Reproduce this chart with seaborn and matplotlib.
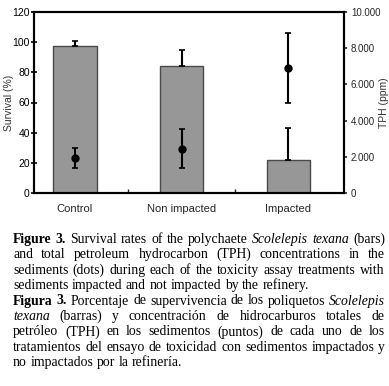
import numpy as np
import pandas as pd
import seaborn as sns
import matplotlib.pyplot as plt
from matplotlib.ticker import FuncFormatter, FixedLocator
from matplotlib.transforms import IdentityTransform

# data
treatments = ['Control', 'Non impacted', 'Impacted']
survival = [97.5, 84.2, 22.0]
survival_err = [3.0, 10.6, 21.0]
tph = [1930, 2450, 6900]
tph_err = [570, 1090, 1930]

caption_lines = [
    [('Figure', 'b'), ('3.', 'b'), ('Survival', ''), ('rates', ''), ('of', ''), ('the', ''),
     ('polychaete', ''), ('Scolelepis', 'i'), ('texana', 'i'), ('(bars)', '')],
    [('and', ''), ('total', ''), ('petroleum', ''), ('hydrocarbon', ''), ('(TPH)', ''),
     ('concentrations', ''), ('in', ''), ('the', '')],
    [('sediments', ''), ('(dots)', ''), ('during', ''), ('each', ''), ('of', ''), ('the', ''),
     ('toxicity', ''), ('assay', ''), ('treatments', ''), ('with', '')],
    [('sediments', ''), ('impacted', ''), ('and', ''), ('not', ''), ('impacted', ''), ('by', ''),
     ('the', ''), ('refinery.', '')],
    [('Figura', 'b'), ('3.', 'b'), ('Porcentaje', ''), ('de', ''), ('supervivencia', ''), ('de', ''),
     ('los', ''), ('poliquetos', ''), ('Scolelepis', 'i')],
    [('texana', 'i'), ('(barras)', ''), ('y', ''), ('concentración', ''), ('de', ''),
     ('hidrocarburos', ''), ('totales', ''), ('de', '')],
    [('petróleo', ''), ('(TPH)', ''), ('en', ''), ('los', ''), ('sedimentos', ''), ('(puntos)', ''),
     ('de', ''), ('cada', ''), ('uno', ''), ('de', ''), ('los', '')],
    [('tratamientos', ''), ('del', ''), ('ensayo', ''), ('de', ''), ('toxicidad', ''), ('con', ''),
     ('sedimentos', ''), ('impactados', ''), ('y', '')],
    [('no', ''), ('impactados', ''), ('por', ''), ('la', ''), ('refinería.', '')],
]
last_of_paragraph = [3, 8]

sns.set_theme(style='white')
plt.rcParams['font.family'] = ['Liberation Sans', 'DejaVu Sans']

df = pd.DataFrame({'Treatment': treatments, 'Survival': survival})

W, H = 389, 386
fig = plt.figure(figsize=(W / 100, H / 100), dpi=100)
ax = fig.add_axes([34 / W, 1 - 193 / H, (344 - 34) / W, (193 - 12) / H])

sns.barplot(data=df, x='Treatment', y='Survival', ax=ax, color='#979797',
            edgecolor='#4a4a4a', linewidth=1.0, width=0.41, saturation=1)
pos = np.arange(len(treatments))
ax.errorbar(pos, survival, yerr=[np.zeros(3), survival_err], fmt='none',
            ecolor='black', elinewidth=1.5, capsize=2, capthick=1.2, zorder=3)

ax.set_xlim(-0.38, 2.52)
ax.set_ylim(0, 120)
ax.set_yticks(range(0, 121, 20))
ax.set_xlabel('')
ax.set_ylabel('Survival (%)', fontsize=7.5, color='#333333')
ax.yaxis.set_label_coords(-0.066, 0.5)
ax.tick_params(axis='y', direction='inout', length=4, width=1.2, labelsize=7.5, pad=1, colors='black')
ax.tick_params(axis='x', length=0, labelsize=8, pad=8)
ax.xaxis.set_minor_locator(FixedLocator([0.5, 1.5]))
ax.tick_params(axis='x', which='minor', direction='in', length=3, width=1, bottom=True)

ax2 = ax.twinx()
ax2.errorbar(pos, tph, yerr=tph_err, fmt='o', color='black', markersize=5,
             ecolor='black', elinewidth=1.5, capsize=2, capthick=1.2, zorder=4)
ax2.set_ylim(0, 10000)
ax2.set_yticks(range(0, 10001, 2000))
ax2.yaxis.set_major_formatter(FuncFormatter(lambda v, p: f'{int(v):,}'.replace(',', '.')))
ax2.set_ylabel('TPH (ppm)', fontsize=7.5, color='#333333')
ax2.yaxis.set_label_coords(1.113, 0.5)
ax2.tick_params(axis='y', direction='out', length=2, width=1.2, labelsize=7, pad=3)

for a in (ax, ax2):
    for s in a.spines.values():
        s.set_color('black')
        s.set_linewidth(1.5)
        s.set_visible(True)

# justified caption
fig.canvas.draw()
renderer = fig.canvas.get_renderer()
x0, x1 = 13, 385
size = 9.9
for i, line in enumerate(caption_lines):
    y = H - (242.7 + 15.45 * i)
    texts = []
    for word, st in line:
        t = fig.text(0, y, word, transform=IdentityTransform(), fontsize=size,
                     family=['Liberation Serif', 'DejaVu Serif'],
                     weight='bold' if st == 'b' else 'normal',
                     style='italic' if st == 'i' else 'normal',
                     va='baseline', ha='left', color='black')
        texts.append(t)
    widths = [t.get_window_extent(renderer).width for t in texts]
    if i in last_of_paragraph:
        gap = 0.25 * size * 100 / 72
    else:
        gap = (x1 - x0 - sum(widths)) / (len(texts) - 1)
    x = x0
    for t, w in zip(texts, widths):
        t.set_x(x)
        x += w + gap

fig.savefig('out.png', dpi=100)
